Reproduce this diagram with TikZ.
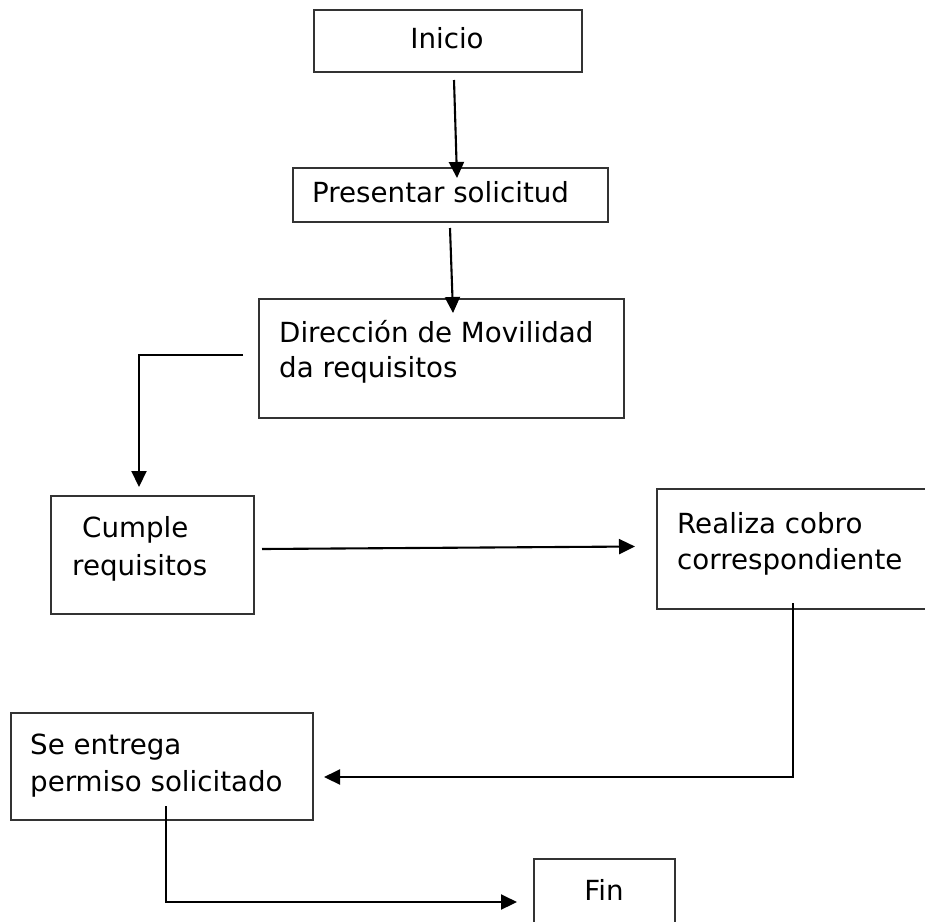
\documentclass[tikz,border=0pt]{standalone}
\usepackage{fontspec}
\setmainfont{DejaVu Sans}
\usetikzlibrary{arrows.meta}
\tikzset{
  box/.style={draw=black!80, line width=1.6pt, rectangle, inner sep=0pt},
  txt/.style={inner sep=0pt, font=\fontsize{27.7}{36}\selectfont, text=black},
  arr/.style={draw=black, line width=2.1pt, -{Triangle[length=16pt,width=15pt]}},
}
\begin{document}
\begin{tikzpicture}[x=1pt,y=-1pt]
\useasboundingbox (0,0) rectangle (925,921);
\clip (0,0) rectangle (925,921);
% boxes
\node[box, anchor=north west, minimum width=268pt, minimum height=62pt] (ini) at (313,9) {};
\node[box, anchor=north west, minimum width=315pt, minimum height=54pt] (pre) at (292,167) {};
\node[box, anchor=north west, minimum width=365pt, minimum height=119pt] (dir) at (258,298) {};
\node[box, anchor=north west, minimum width=203pt, minimum height=118pt] (cum) at (50,495) {};
\node[box, anchor=north west, minimum width=290pt, minimum height=120pt] (rea) at (656,488) {};
\node[box, anchor=north west, minimum width=302pt, minimum height=107pt] (ent) at (10,712) {};
\node[box, anchor=north west, minimum width=141pt, minimum height=100pt] (fin) at (533,858) {};
% texts
\node[txt, anchor=base] (tini) at (447,48) {Inicio};
\node[txt, anchor=base west] (tpre) at (312,202) {Presentar solicitud};
\node[txt, anchor=base west] (tdir1) at (279,342) {Dirección de Movilidad};
\node[txt, anchor=base west] (tdir2) at (279,377) {da requisitos};
\node[txt, anchor=base west] (tcum1) at (82,537) {Cumple};
\node[txt, anchor=base west] (tcum2) at (72,575) {requisitos};
\node[txt, anchor=base west] (trea1) at (677,533) {Realiza cobro};
\node[txt, anchor=base west] (trea2) at (677,569) {correspondiente};
\node[txt, anchor=base west] (tent1) at (30,754) {Se entrega};
\node[txt, anchor=base west] (tent2) at (30,791) {permiso solicitado};
\node[txt, anchor=base] (tfin) at (604,900) {Fin};
% connector end points
\coordinate (a1s) at (454,80);
\coordinate (a1e) at (457,178);
\coordinate (a2s) at (450,228);
\coordinate (a2e) at (453,313);
\coordinate (a3s) at (243,355);
\coordinate (a3c) at (139,355);
\coordinate (a3e) at (139,487);
\coordinate (a4s) at (262,549);
\coordinate (a4e) at (635,546.5);
\coordinate (a5s) at (793,603);
\coordinate (a5c) at (793,777);
\coordinate (a5e) at (324,777);
\coordinate (a6s) at (166,806);
\coordinate (a6c) at (166,902);
\coordinate (a6e) at (517,902);
% connectors
\draw[arr] (a1s) -- (a1e);
\draw[arr] (a2s) -- (a2e);
\draw[arr] (a3s) -- (a3c) -- (a3e);
\draw[arr] (a4s) -- (a4e);
\draw[arr] (a5s) -- (a5c) -- (a5e);
\draw[arr] (a6s) -- (a6c) -- (a6e);
\end{tikzpicture}
\end{document}
